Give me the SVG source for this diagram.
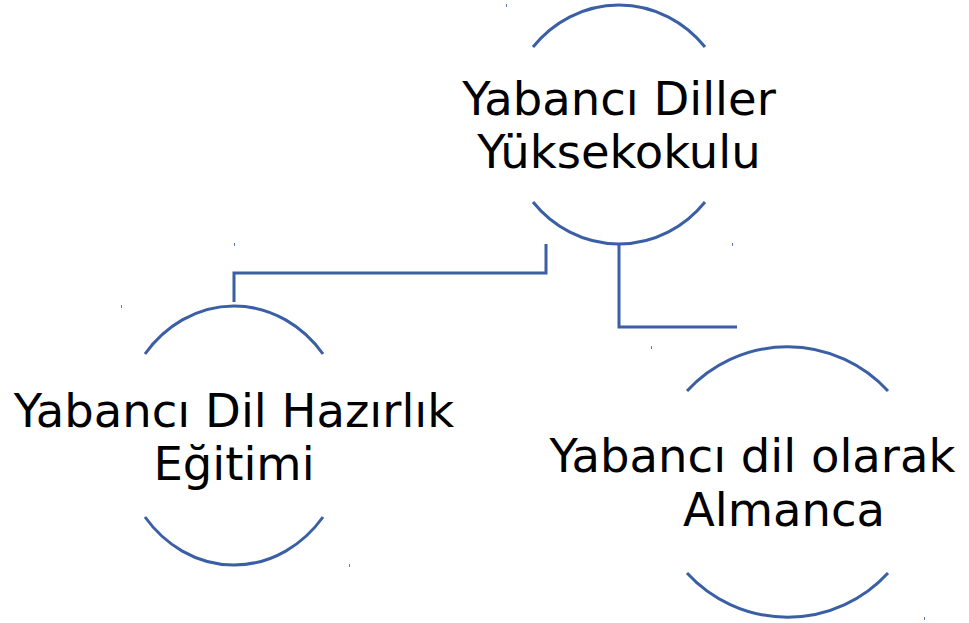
<svg xmlns="http://www.w3.org/2000/svg" width="969" height="623" viewBox="0 0 969 623">
<style>
.arc{fill:none;stroke:#3A5FA5;stroke-width:3;stroke-linecap:butt}
.conn{fill:none;stroke:#3A5FA5;stroke-width:3;stroke-linejoin:miter}
.lbl{font-family:"DejaVu Sans",sans-serif;font-size:46.5px;fill:#000;text-anchor:middle}
.tick{fill:#5A7DBD}
</style>
<rect width="969" height="623" fill="#fff"/>
<g id="connectors">
<path class="conn" d="M546,244 V273 H234 V302"/>
<path class="conn" d="M619,243 V327 H737"/>
</g>
<g id="node-top">
<path class="arc" d="M533,47 A113,119.5 0 0 1 705,47"/>
<path class="arc" d="M533,202 A113,119.5 0 0 0 705,202"/>
<text class="lbl" x="619" y="115">Yabancı Diller</text>
<text class="lbl" x="619" y="168">Yüksekokulu</text>
</g>
<g id="node-left">
<path class="arc" d="M145,354 A114.5,129.5 0 0 1 323,354"/>
<path class="arc" d="M145,517 A114.5,129.5 0 0 0 323,517"/>
<text class="lbl" x="234" y="427">Yabancı Dil Hazırlık</text>
<text class="lbl" x="234" y="480">Eğitimi</text>
</g>
<g id="node-right">
<path class="arc" d="M687,391 A136,135.5 0 0 1 888,391"/>
<path class="arc" d="M687,573 A136,135.5 0 0 0 888,573"/>
<text class="lbl" x="752.5" y="472">Yabancı dil olarak</text>
<text class="lbl" x="784" y="526">Almanca</text>
</g>
<g id="ticks">
<rect class="tick" x="506" y="4" width="1" height="3"/>
<rect class="tick" x="234" y="243" width="1" height="3"/>
<rect class="tick" x="121" y="305" width="1" height="3"/>
<rect class="tick" x="732" y="243" width="1" height="3"/>
<rect class="tick" x="651" y="346" width="1" height="3"/>
<rect class="tick" x="349" y="564" width="1" height="3"/>
<rect class="tick" x="924" y="617" width="1" height="3"/>
</g>
</svg>
